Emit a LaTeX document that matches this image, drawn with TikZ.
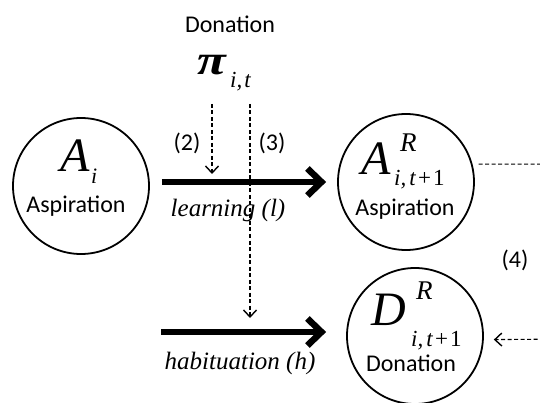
\documentclass[tikz,border=0pt]{standalone}
\usepackage{fontspec}
\setmainfont{Carlito}
\newfontfamily\tms{Liberation Serif}
\usetikzlibrary{arrows.meta}
\newcommand{\subsp}{i,\hspace{3pt}t\hspace{2.5pt}{\upshape+}\hspace{2pt}{\upshape 1}}
\begin{document}
\begin{tikzpicture}[x=1pt,y=-1pt,
  circ/.style={draw, circle, line width=1.8pt, minimum size=136pt, inner sep=0pt},
  lbl/.style={font=\fontsize{24}{24}\selectfont, inner sep=0pt},
  num/.style={font=\fontsize{24}{24}\selectfont, inner sep=0pt},
  ital/.style={font=\tms\itshape\fontsize{25}{25}\selectfont, inner sep=0pt},
  big/.style={font=\tms\itshape\fontsize{48}{48}\selectfont, inner sep=0pt, anchor=base west},
  supr/.style={font=\tms\itshape\fontsize{27}{27}\selectfont, inner sep=0pt, anchor=base west},
  subs/.style={font=\tms\itshape\fontsize{23}{23}\selectfont, inner sep=0pt, anchor=base west},
  thickarrow/.style={line width=6.5pt, -{Straight Barb[length=14pt,width=27pt]}},
  dasharrow/.style={line width=1.1pt, dash pattern=on 4pt off 2.5pt, -{Straight Barb[length=7pt,width=13pt,line width=1.4pt]}},
  dashline/.style={line width=1.1pt, dash pattern=on 4pt off 2.5pt}
]
\useasboundingbox (0,0) rectangle (540,403);

% circles
\node[circ] (Ai) at (81,186) {};
\node[circ] (AR) at (406,182) {};
\node[circ] (DR) at (415,336) {};

% texts in circles
\node[big] (AiA) at (60,172) {A};
\node[subs, font=\tms\itshape\fontsize{22}{22}\selectfont] (Aii) at (91,184) {i};
\node[lbl] (Aiasp) at (76,206) {Aspiration};

\node[big] (ARA) at (361,175) {A};
\node[supr] (ARR) at (400,152) {R};
\node[subs] (ARi) at (394,186) {\subsp};
\node[lbl] (ARasp) at (405,209) {Aspiration};

\node[big] (DRD) at (371,325) {D};
\node[supr] (DRR) at (416,299) {R};
\node[subs] (DRi) at (411,346) {\subsp};
\node[lbl] (DRdon) at (411,363) {Donation};

% top
\node[lbl] (don) at (230,24) {Donation};
\node[font=\tms\bfseries\itshape\fontsize{42}{42}\selectfont, inner sep=0pt, anchor=base west] (pi) at (197,75) {\scalebox{1.25}[1]{π}};
\node[subs] (pisub) at (230,88) {i,\hspace{2pt}t};

% labels
\node[num] (n2) at (187,143) {(2)};
\node[num] (n3) at (272,143) {(3)};
\node[num] (n4) at (515,260) {(4)};
\node[ital] (learn) at (228,210) {learning (l)};
\node[ital] (habit) at (240,363) {habituation (h)};

% thick arrows
\draw[thickarrow, shorten <=12pt, shorten >=11pt] (Ai.east |- AR.center) -- (AR.west);
\coordinate (hstart) at (161,332);
\draw[thickarrow, shorten >=20pt] (hstart) -- (hstart -| DR.west);

% dashed arrows
\coordinate (d2s) at (212,104);
\coordinate (d2e) at (212,174);
\draw[dasharrow] (d2s) -- (d2e);
\coordinate (d3s) at (250,104);
\coordinate (d3e) at (250,318);
\draw[dasharrow] (d3s) -- (d3e);

\coordinate (r1) at (570,164);
\coordinate (r2) at (570,339);
\draw[dashline] ([xshift=6pt]AR.15) -- (r1);
\draw[dasharrow] (r2) -- ([xshift=10pt]DR.-3);
\end{tikzpicture}
\end{document}
